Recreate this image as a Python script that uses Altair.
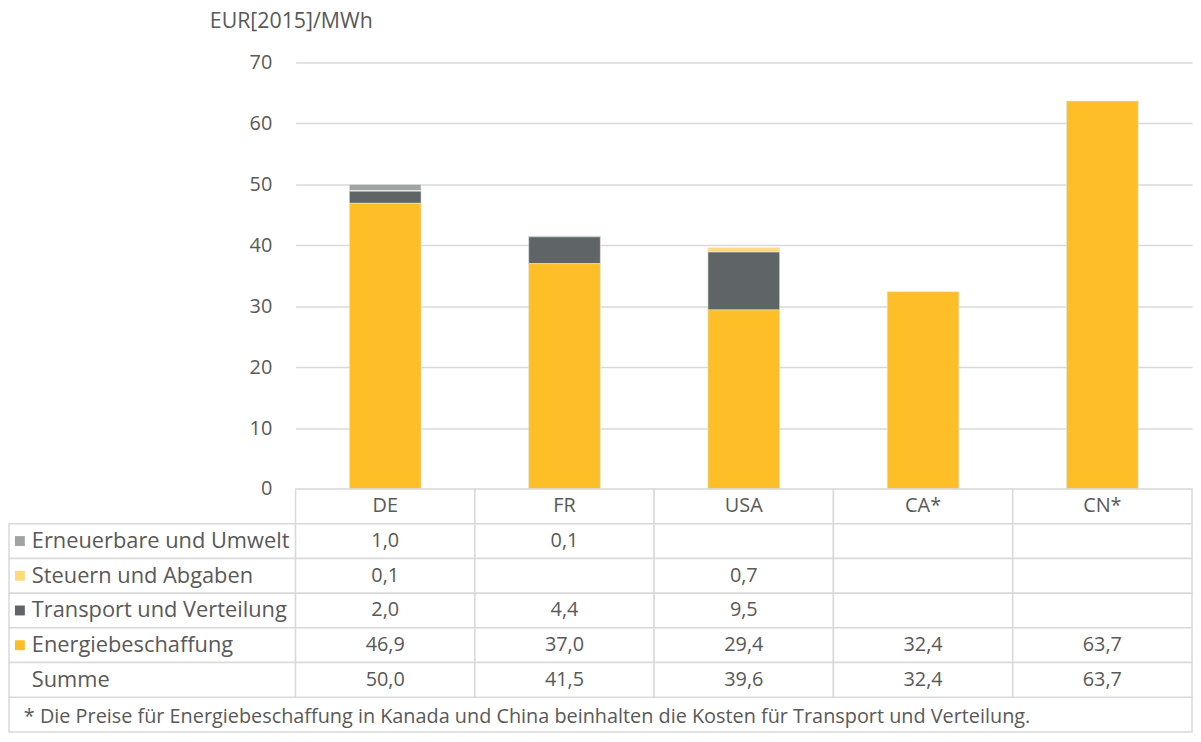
import altair as alt
import pandas as pd

countries = ["DE", "FR", "USA", "CA*", "CN*"]
components = ["Erneuerbare und Umwelt", "Steuern und Abgaben", "Transport und Verteilung", "Energiebeschaffung"]
erneuerbare = [1.0, 0.1, None, None, None]
steuern = [0.1, None, 0.7, None, None]
transport = [2.0, 4.4, 9.5, None, None]
energie = [46.9, 37.0, 29.4, 32.4, 63.7]
summe = [50.0, 41.5, 39.6, 32.4, 63.7]
colors = ["#A0A3A3", "#FFD97A", "#5F6566", "#FEBE27"]
stack_order = [4, 3, 2, 1]
footnote = "* Die Preise für Energiebeschaffung in Kanada und China beinhalten die Kosten für Transport und Verteilung."
unit = "EUR[2015]/MWh"

FONT = "Open Sans"
TXT = "#595959"
GRID = "#d9d9d9"
W = 904
LABEL_W = 289

series = [erneuerbare, steuern, transport, energie]
rows = []
for comp, vals, o in zip(components, series, stack_order):
    for c, v in zip(countries, vals):
        if v is not None:
            rows.append({"country": c, "component": comp, "value": v, "order": o})
bars_df = pd.DataFrame(rows)

color_scale = alt.Scale(domain=components, range=colors)
x_scale = alt.Scale(domain=countries, paddingInner=0, paddingOuter=0)

bars = alt.Chart(bars_df).mark_bar(width=alt.RelativeBandSize(0.4), stroke="#e6e6e6", strokeWidth=0.6).encode(
    x=alt.X("country:N", scale=x_scale, axis=None, sort=countries),
    y=alt.Y("value:Q", stack="zero",
            scale=alt.Scale(domain=[0, 70]),
            axis=alt.Axis(values=list(range(0, 71, 10)), title=unit, titleAngle=0,
                          titleX=-87, titleY=-41, titleAlign="left", titleBaseline="middle",
                          titleFont=FONT, titleFontSize=21.5, titleFontWeight="normal", titleColor=TXT,
                          labelFont=FONT, labelFontSize=20, labelColor=TXT, labelPadding=24,
                          ticks=False, domain=False, gridColor=GRID, gridWidth=1.5)),
    color=alt.Color("component:N", scale=color_scale, legend=None),
    order=alt.Order("order:Q"),
).properties(width=W, height=430)

# table
row_keys = ["hdr"] + components + ["Summe", "note"]
cell_rows = []
for c_i, c in enumerate(countries):
    cell_rows.append({"country": c, "row": "hdr", "label": c})
    for comp, vals in zip(components, series):
        v = vals[c_i]
        cell_rows.append({"country": c, "row": comp, "label": "" if v is None else f"{v:.1f}".replace(".", ",")})
    cell_rows.append({"country": c, "row": "Summe", "label": f"{summe[c_i]:.1f}".replace(".", ",")})
cells_df = pd.DataFrame(cell_rows)

y_tab = alt.Scale(domain=row_keys, paddingInner=0, paddingOuter=0)

cells = alt.Chart(cells_df).mark_rect(fill="white", stroke=GRID, strokeWidth=1.5).encode(
    x=alt.X("country:N", scale=x_scale, axis=None, sort=countries),
    y=alt.Y("row:N", scale=y_tab, axis=None),
)
cell_text = alt.Chart(cells_df).mark_text(font=FONT, fontSize=20, color=TXT).encode(
    x=alt.X("country:N", scale=x_scale, axis=None, sort=countries),
    y=alt.Y("row:N", scale=y_tab, axis=None),
    text="label:N",
)

label_df = pd.DataFrame({"row": components + ["Summe"], "label": components + ["Summe"]})
label_cells = alt.Chart(label_df).mark_rect(fill="white", stroke=GRID, strokeWidth=1.5).encode(
    x=alt.value(-LABEL_W), x2=alt.value(0),
    y=alt.Y("row:N", scale=y_tab, axis=None),
)
label_text = alt.Chart(label_df).mark_text(font=FONT, fontSize=22, color=TXT, align="left").encode(
    x=alt.value(-266),
    y=alt.Y("row:N", scale=y_tab, axis=None),
    text="label:N",
)
sq_df = pd.DataFrame({"row": components, "component": components})
squares = alt.Chart(sq_df).mark_square(size=100, opacity=1).encode(
    x=alt.value(-278),
    y=alt.Y("row:N", scale=y_tab, axis=None),
    color=alt.Color("component:N", scale=color_scale, legend=None),
)
note_df = pd.DataFrame({"row": ["note"], "label": [footnote]})
note_cell = alt.Chart(note_df).mark_rect(fill="white", stroke=GRID, strokeWidth=1.5).encode(
    x=alt.value(-LABEL_W), x2=alt.value(W),
    y=alt.Y("row:N", scale=y_tab, axis=None),
)
note_text = alt.Chart(note_df).mark_text(font=FONT, fontSize=20, color=TXT, align="left", dy=2.5).encode(
    x=alt.value(-274),
    y=alt.Y("row:N", scale=y_tab, axis=None),
    text="label:N",
)

table = alt.layer(note_cell, note_text, label_cells, cells, cell_text, label_text, squares).properties(width=W, height=245)

chart = alt.vconcat(bars, table, spacing=0, bounds="flush").resolve_scale(
    y="independent", x="shared", color="shared"
).configure_view(stroke=None).properties(padding=0, background="white")

chart.save("out.html", embed_options={"renderer": "svg", "actions": False})
